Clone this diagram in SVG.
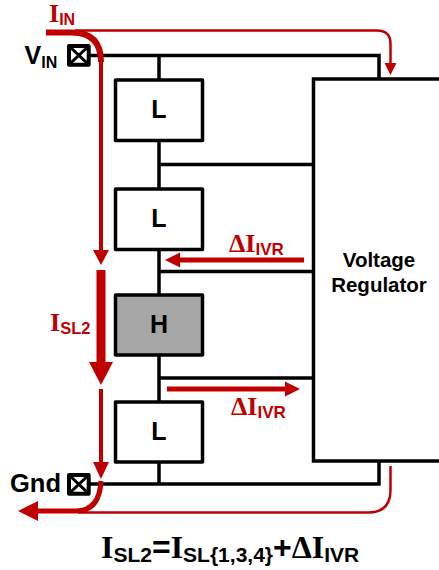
<svg xmlns="http://www.w3.org/2000/svg" width="439" height="570" viewBox="0 0 439 570">
<style>
.w{fill:none;stroke:#000;stroke-width:3.5}
.box{fill:#fff;stroke:#000;stroke-width:3.5;stroke-linejoin:round}
.pad{fill:#fff;stroke:#000;stroke-width:4;stroke-linejoin:round}
.x{stroke:#000;stroke-width:3}
.r{fill:none;stroke:#c00000}
.rf{fill:#c00000}
.t{font-family:"Liberation Sans",Arial,sans-serif;font-weight:bold;fill:#000}
.s{font-family:"Liberation Serif","Times New Roman",serif;font-weight:bold}
.red{fill:#c00000}
.sub{font-family:"Liberation Sans",Arial,sans-serif;font-weight:bold}
</style>
<g id="connectors">
<path class="w" d="M90 55.500H379V79M159 55.500V80M159 140V190M159 164.500H313M159 250V295M159 271.500H313M159 355V402M159 378H313M159 462V484M90 484H379V461"/>
</g>
<g id="vin"><rect class="pad" x="69" y="46" width="19.700" height="18.700"/><path class="x" d="M69 46L88.700 64.700M88.700 46L69 64.700"/>
<text class="t" x="24.500" y="63.500" font-size="25">V<tspan font-size="16" dy="4">IN</tspan></text></g>
<g id="gnd"><rect class="pad" x="69" y="475" width="19.700" height="18.700"/><path class="x" d="M69 475L88.700 493.700M88.700 475L69 493.700"/>
<text class="t" x="10" y="492" font-size="25.500">Gnd</text></g>
<g id="l1"><rect class="box" x="115.500" y="80" width="87" height="60.500"/><text class="t" x="159" y="117.500" font-size="25" text-anchor="middle">L</text></g>
<g id="l2"><rect class="box" x="115.500" y="189" width="87" height="60.500"/><text class="t" x="159" y="226.500" font-size="25" text-anchor="middle">L</text></g>
<g id="h"><rect class="box" x="115.500" y="295" width="87" height="60" style="fill:#a6a6a6"/><text class="t" x="159" y="332.500" font-size="25" text-anchor="middle">H</text></g>
<g id="l3"><rect class="box" x="115.500" y="402" width="87" height="60"/><text class="t" x="159" y="440" font-size="25" text-anchor="middle">L</text></g>
<g id="regulator"><path d="M439 79H313.500V461H439" fill="#fff" stroke="#000" stroke-width="3.500"/>
<text class="t" x="379" y="267" font-size="20.500" text-anchor="middle">Voltage</text><text class="t" x="379" y="292" font-size="20.500" text-anchor="middle">Regulator</text></g>
<g id="currents">
<path class="r" stroke-width="2.500" d="M75 30.500H377Q390.500 30.500 390.500 44V64"/>
<path class="rf" d="M384.500 63H396.500L390.500 75Z"/>
<path class="r" stroke-width="6" d="M46 32.500H72Q101 32.500 101 62"/>
<path class="r" stroke-width="4" d="M101 60V252"/>
<path class="rf" d="M93 250H109L101 265Z"/>
<path class="r" stroke-width="9" d="M101 270V364"/>
<path class="rf" d="M89 362H113L101 385Z"/>
<path class="r" stroke-width="4" d="M101 389V464"/>
<path class="rf" d="M93 462H109L101 479Z"/>
<path class="r" stroke-width="5" d="M101 481C100 500 92 511 76 511H36"/>
<path class="rf" d="M38 501V521L18 511Z"/>
<path class="r" stroke-width="2.500" d="M78 512.500H368Q390.500 512.500 390.500 490V466"/>
<path class="r" stroke-width="5" d="M304 260H178"/>
<path class="rf" d="M180 252.500V267.500L165 260Z"/>
<path class="r" stroke-width="5" d="M167 389H287"/>
<path class="rf" d="M285 381.500V396.500L300 389Z"/>
</g>
<g id="labels">
<text class="s red" x="49" y="22" font-size="26">I<tspan class="sub" font-size="16" dy="3">IN</tspan></text>
<text class="s red" x="50" y="330.500" font-size="26">I<tspan class="sub" font-size="16.500" dy="3.500">SL2</tspan></text>
<text class="s red" x="229" y="251.500" font-size="26">ΔI<tspan class="sub" font-size="17" dy="3.500">IVR</tspan></text>
<text class="s red" x="231" y="414.500" font-size="26">ΔI<tspan class="sub" font-size="17" dy="3.500">IVR</tspan></text>
<text class="s" x="101" y="557.500" font-size="32">I<tspan class="sub" font-size="21" dy="4">SL2</tspan><tspan class="sub" font-size="32" dy="-4">=</tspan>I<tspan class="sub" font-size="21" dy="4">SL{1,3,4}</tspan><tspan class="sub" font-size="32" dy="-4">+</tspan>ΔI<tspan class="sub" font-size="21" dy="4">IVR</tspan></text>
</g>
</svg>
